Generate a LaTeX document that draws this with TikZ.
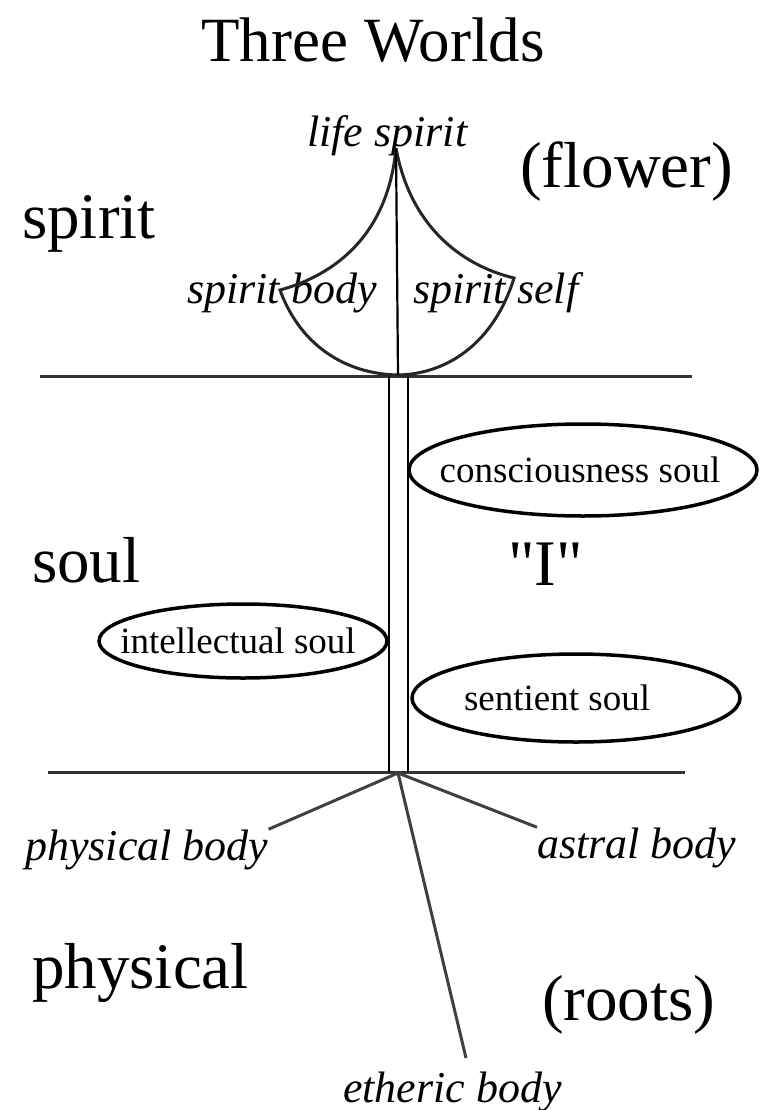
\documentclass[tikz,border=0pt]{standalone}
\usepackage{fontspec}
\setmainfont{Liberation Serif}
\usetikzlibrary{shapes.geometric,positioning}

\tikzset{
  world/.style={inner sep=0pt, anchor=base west, font=\fontsize{65}{70}\selectfont},
  member/.style={inner sep=0pt, anchor=base west, font=\fontsize{44}{48}\selectfont\itshape},
  soultext/.style={inner sep=0pt, font=\fontsize{37}{40}\selectfont},
  soulring/.style={draw, line width=3.5pt},
  divider/.style={line width=3pt, black!80},
  stalk/.style={line width=2.2pt},
  petal/.style={line width=3pt, black!85},
  root/.style={line width=3pt, black!75}
}

\begin{document}
\begin{tikzpicture}[x=1pt,y=-1pt]
    \useasboundingbox (0,0) rectangle (769,1110);
    % title and the three worlds
    \node[inner sep=0pt, anchor=base, font=\fontsize{63}{68}\selectfont] (title) at (373,62) {Three Worlds};
    \node[world] (spirit) at (22,238) {spirit};
    \node[world] (soul) at (32,582) {soul};
    \node[world] (physical) at (32,988) {physical};
    \node[world] (flower) at (520,188) {(flower)};
    \node[world] (I) at (508,585) {\textquotedbl I\textquotedbl};
    \node[world] (roots) at (542,1020) {(roots)};
    % dividers and stem
    \coordinate (top west) at (40,376);
    \coordinate (top east) at (692,376);
    \coordinate (bot west) at (48,772);
    \coordinate (bot east) at (685,772);
    \coordinate (stem nw) at (389,376);
    \coordinate (stem sw) at (389,772);
    \coordinate (stem ne) at (408,376);
    \coordinate (stem se) at (408,772);
    \draw[divider] (top west) -- (top east);
    \draw[divider] (bot west) -- (bot east);
    \draw[stalk] (stem nw) -- (stem sw);
    \draw[stalk] (stem ne) -- (stem se);
    % soul members
    \node[soultext] (conscious) at (580,470) {consciousness soul};
    \node[soultext] (intellect) at (238,641) {intellectual soul};
    \node[soultext] (sentient) at (557,698) {sentient soul};
    \draw[soulring] (583,470) ellipse [x radius=174, y radius=46];
    \draw[soulring] (243,641) ellipse [x radius=144, y radius=37];
    \draw[soulring] (576,698) ellipse [x radius=164, y radius=44];
    % flower
    \node[member] (lifespirit) at (307,147) {life spirit};
    \node[member] (spiritbody) at (187,303) {spirit body};
    \node[member] (spiritself) at (413,303) {spirit self};
    \coordinate (tip) at (396,148);
    \coordinate (base) at (398,375);
    \coordinate (left tip) at (280,290);
    \coordinate (right tip) at (514,278);
    \draw[petal] (tip) .. controls (388,235) and (335,275) .. (left tip)
        .. controls (300,345) and (345,374) .. (base);
    \draw[petal] (tip) .. controls (410,225) and (460,265) .. (right tip)
        .. controls (495,340) and (450,374) .. (base);
    \draw[stalk] (tip) -- (base);
    % roots
    \node[member] (physbody) at (25,860) {physical body};
    \node[member] (astralbody) at (537,858) {astral body};
    \node[member] (ethbody) at (343,1102) {etheric body};
    \coordinate (junction) at (398,773);
    \coordinate (eth end) at (466,1058);
    \path[root]
    (junction) edge (physbody.north east)
    (junction) edge (astralbody.north west)
    (junction) edge (eth end);
\end{tikzpicture}
\end{document}
